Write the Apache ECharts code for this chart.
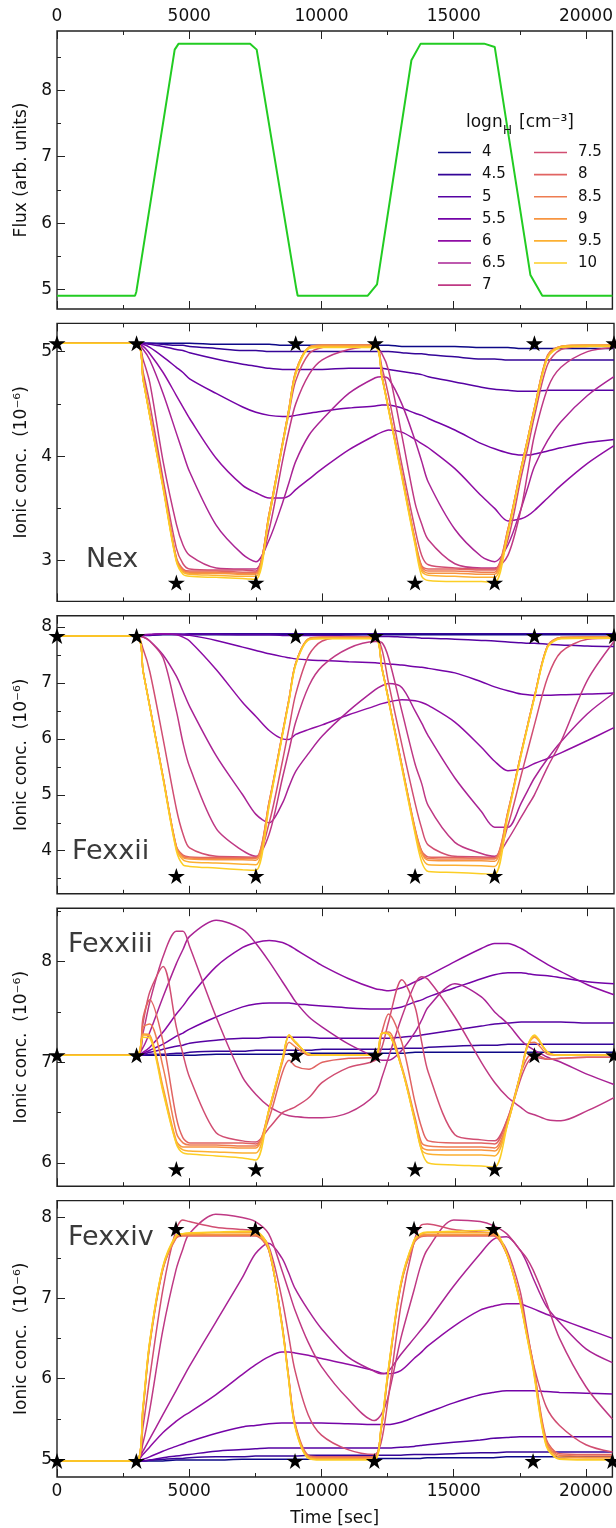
<!DOCTYPE html>
<html><head><meta charset="utf-8">
<script src="https://cdn.jsdelivr.net/npm/echarts@6/dist/echarts.min.js"></script>
<style>html,body{margin:0;padding:0;background:#fff}#c{width:616px;height:1528px}</style>
</head><body><div id="c"></div>
<script>
// ---------------- DATA ----------------
const densities = ['4','4.5','5','5.5','6','6.5','7','7.5','8','8.5','9','9.5','10'];
const plasmaColors = ['#0d0887','#340598','#5602a3','#7303a7','#8f0da4','#a92395','#bf3984','#d14e72','#e16462','#ee7c51','#f79540','#fcb032','#fcce25'];

const fluxT = [0,2950,3000,4450,4600,7300,7550,9050,9100,11750,12100,13400,13750,16150,16550,17900,18350,21000];
const fluxV = [4.91,4.91,4.97,8.61,8.70,8.70,8.61,5.01,4.91,4.91,5.08,8.45,8.70,8.70,8.65,5.22,4.91,4.91];

const T = [0,3000,3250,3500,4000,4500, 4750,5000,6000,7000,7500,8000, 8500,8750,9000,9500,10000,11000, 12000,12250,12500,13000,13500,13750, 14000,15000,16000,16500,17000,17500, 17750,18000,18500,19000,20000,21000];

// Ne X
const neX_40 = [5.08,5.08,5.08,5.08,5.08,5.08, 5.08,5.08,5.07,5.07,5.07,5.07, 5.06,5.06,5.06,5.06,5.06,5.06, 5.06,5.06,5.06,5.05,5.05,5.05, 5.05,5.05,5.04,5.04,5.04,5.03, 5.03,5.03,5.03,5.03,5.03,5.03];
const neX_45 = [5.08,5.08,5.08,5.08,5.07,5.06, 5.06,5.05,5.03,5.01,5.01,5.00, 5.00,5.00,5.00,5.00,5.00,5.00, 5.00,5.00,5.00,4.99,4.98,4.98, 4.97,4.95,4.93,4.93,4.92,4.92, 4.92,4.92,4.92,4.92,4.92,4.92];
const neX_50 = [5.08,5.08,5.08,5.07,5.05,5.02, 5.01,4.99,4.93,4.88,4.86,4.84, 4.83,4.83,4.83,4.83,4.83,4.84, 4.84,4.84,4.83,4.81,4.79,4.78, 4.76,4.71,4.66,4.64,4.63,4.62, 4.62,4.62,4.63,4.63,4.63,4.63];
const neX_55 = [5.08,5.08,5.07,5.04,4.95,4.85, 4.80,4.74,4.60,4.47,4.42,4.39, 4.38,4.38,4.39,4.41,4.43,4.46, 4.48,4.49,4.49,4.46,4.41,4.39, 4.36,4.25,4.12,4.07,4.03,4.01, 4.01,4.02,4.05,4.08,4.13,4.16];
const neX_60 = [5.08,5.08,5.05,4.98,4.80,4.58, 4.47,4.36,3.98,3.72,3.65,3.60, 3.60,3.62,3.68,3.78,3.88,4.06, 4.20,4.23,4.25,4.23,4.16,4.12, 4.08,3.88,3.62,3.50,3.38,3.40, 3.43,3.48,3.60,3.72,3.93,4.10];
const neX_65 = [5.08,5.08,5.02,4.92,4.60,4.22, 4.03,3.85,3.34,3.06,2.99,3.20, 3.55,3.75,3.95,4.20,4.35,4.60, 4.75,4.76,4.74,4.50,4.15,3.95, 3.75,3.30,3.04,2.99,3.15,3.50, 3.70,3.90,4.15,4.33,4.58,4.76];
const neX_70 = [5.08,5.08,4.92,4.70,3.95,3.35, 3.15,3.05,2.93,2.92,2.92,3.30, 3.95,4.25,4.50,4.78,4.92,5.02, 5.05,4.98,4.82,4.20,3.55,3.35, 3.20,2.97,2.93,2.93,3.05,3.50, 3.85,4.20,4.65,4.85,5.00,5.04];
const neX_75 = [5.08,5.08,4.80,4.50,3.78,3.12, 2.97,2.92,2.91,2.91,2.90,3.42, 4.10,4.42,4.72,4.98,5.04,5.06, 5.06,4.85,4.58,3.92,3.30,3.05, 2.96,2.93,2.92,2.92,3.20,3.80, 4.08,4.38,4.88,5.02,5.05,5.06];
const neX_80 = [5.08,5.08,4.74,4.40,3.72,3.03, 2.92,2.90,2.90,2.89,2.89,3.45, 4.12,4.46,4.80,5.04,5.06,5.06, 5.06,4.77,4.46,3.83,3.20,2.95, 2.92,2.92,2.91,2.91,3.30,3.89, 4.17,4.46,4.97,5.05,5.06,5.06];
const neX_85 = [5.08,5.08,4.73,4.39,3.71,3.02, 2.91,2.89,2.89,2.88,2.88,3.45, 4.12,4.46,4.81,5.04,5.06,5.06, 5.06,4.76,4.46,3.83,3.19,2.94, 2.90,2.90,2.89,2.89,3.30,3.89, 4.17,4.46,4.96,5.05,5.06,5.06];
const neX_90 = [5.08,5.08,4.73,4.39,3.71,3.01, 2.90,2.88,2.88,2.87,2.87,3.45, 4.12,4.46,4.81,5.04,5.06,5.06, 5.06,4.76,4.45,3.82,3.18,2.92, 2.88,2.88,2.87,2.87,3.29,3.89, 4.17,4.46,4.96,5.05,5.06,5.06];
const neX_95 = [5.08,5.08,4.73,4.38,3.70,3.00, 2.89,2.87,2.86,2.85,2.85,3.44, 4.11,4.45,4.80,5.04,5.05,5.05, 5.05,4.76,4.45,3.81,3.17,2.90, 2.86,2.85,2.84,2.84,3.28,3.88, 4.16,4.45,4.95,5.05,5.06,5.06];
const neX_100 = [5.08,5.08,4.72,4.38,3.69,2.99, 2.87,2.85,2.84,2.83,2.82,3.42, 4.10,4.44,4.78,5.03,5.04,5.04, 5.04,4.75,4.44,3.80,3.15,2.85, 2.81,2.80,2.80,2.79,3.26,3.87, 4.15,4.44,4.94,5.04,5.05,5.05];

// Fe XXII
const fe22_40 = [7.84,7.84,7.85,7.85,7.86,7.86, 7.86,7.86,7.86,7.86,7.86,7.86, 7.86,7.86,7.86,7.86,7.86,7.86, 7.86,7.86,7.86,7.86,7.86,7.86, 7.86,7.86,7.86,7.86,7.86,7.86, 7.86,7.86,7.86,7.86,7.86,7.86];
const fe22_45 = [7.84,7.84,7.85,7.86,7.87,7.87, 7.87,7.88,7.88,7.88,7.88,7.88, 7.88,7.88,7.88,7.88,7.88,7.88, 7.88,7.88,7.88,7.88,7.88,7.88, 7.88,7.88,7.88,7.88,7.88,7.88, 7.88,7.88,7.88,7.88,7.88,7.88];
const fe22_50 = [7.84,7.84,7.85,7.86,7.87,7.87, 7.87,7.87,7.87,7.86,7.86,7.86, 7.85,7.85,7.85,7.85,7.85,7.84, 7.83,7.83,7.83,7.82,7.81,7.80, 7.80,7.78,7.76,7.75,7.73,7.72, 7.71,7.71,7.69,7.68,7.66,7.65];
const fe22_55 = [7.84,7.84,7.85,7.86,7.87,7.87, 7.86,7.85,7.76,7.64,7.58,7.52, 7.47,7.45,7.43,7.41,7.40,7.38, 7.36,7.35,7.34,7.32,7.29,7.28, 7.26,7.18,7.02,6.93,6.86,6.80, 6.79,6.78,6.78,6.79,6.80,6.82];
const fe22_60 = [7.84,7.84,7.86,7.87,7.88,7.86, 7.82,7.75,7.24,6.65,6.40,6.15, 6.00,5.99,6.08,6.17,6.25,6.43, 6.59,6.63,6.66,6.70,6.68,6.65, 6.60,6.30,5.85,5.60,5.43,5.46, 5.50,5.56,5.65,5.75,5.97,6.20];
const fe22_65 = [7.84,7.84,7.82,7.75,7.50,7.12, 6.85,6.58,5.70,5.00,4.65,4.50, 4.85,5.15,5.42,5.75,6.05,6.50, 6.88,6.95,6.99,6.92,6.50,6.28, 6.05,5.30,4.70,4.42,4.42,4.85, 5.08,5.30,5.65,5.95,6.45,6.82];
const fe22_70 = [7.84,7.84,7.82,7.75,7.45,6.50, 5.93,5.50,4.40,4.00,3.90,4.30, 5.30,5.80,6.30,6.95,7.30,7.62, 7.74,7.72,7.45,6.50,5.55,5.20, 4.80,4.15,3.95,3.90,4.20,4.60, 4.80,5.00,5.50,5.95,7.05,7.74];
const fe22_75 = [7.84,7.84,7.60,7.20,6.00,4.75, 4.30,4.05,3.90,3.89,3.88,4.50, 5.60,6.20,6.80,7.50,7.75,7.82, 7.82,7.60,7.00,5.90,4.85,4.40, 4.10,3.90,3.89,3.88,4.45,5.35, 5.80,6.25,7.10,7.55,7.78,7.80];
const fe22_80 = [7.84,7.84,7.20,6.58,5.32,4.08, 3.92,3.89,3.88,3.88,3.88,4.88, 6.10,6.72,7.35,7.79,7.82,7.82, 7.82,7.27,6.71,5.54,4.40,4.00, 3.89,3.88,3.87,3.87,4.70,5.75, 6.26,6.76,7.67,7.81,7.82,7.82];
const fe22_85 = [7.84,7.84,7.20,6.58,5.31,4.07, 3.90,3.87,3.86,3.86,3.86,4.87, 6.10,6.72,7.35,7.79,7.81,7.81, 7.81,7.27,6.70,5.53,4.38,3.98, 3.86,3.85,3.85,3.85,4.69,5.75, 6.26,6.76,7.67,7.81,7.82,7.82];
const fe22_90 = [7.84,7.84,7.20,6.57,5.31,4.06, 3.88,3.85,3.84,3.84,3.83,4.86, 6.09,6.71,7.35,7.79,7.81,7.81, 7.81,7.27,6.70,5.52,4.37,3.96, 3.83,3.82,3.82,3.81,4.68,5.74, 6.25,6.75,7.66,7.81,7.81,7.81];
const fe22_95 = [7.84,7.84,7.19,6.57,5.30,4.03, 3.84,3.80,3.78,3.76,3.75,4.83, 6.08,6.70,7.34,7.78,7.80,7.80, 7.80,7.26,6.69,5.50,4.34,3.90, 3.75,3.74,3.73,3.72,4.66,5.73, 6.24,6.74,7.65,7.80,7.81,7.81];
const fe22_100 = [7.84,7.84,7.19,6.56,5.28,4.00, 3.75,3.72,3.69,3.66,3.65,4.80, 6.06,6.68,7.32,7.77,7.79,7.79, 7.79,7.25,6.68,5.48,4.30,3.80, 3.63,3.61,3.59,3.58,4.62,5.71, 6.23,6.73,7.64,7.79,7.80,7.80];

// Fe XXIII
const fe23_40 = [7.07,7.07,7.07,7.07,7.07,7.07, 7.07,7.07,7.08,7.08,7.08,7.08, 7.08,7.08,7.09,7.09,7.09,7.09, 7.09,7.09,7.09,7.09,7.10,7.10, 7.10,7.10,7.10,7.10,7.10,7.10, 7.10,7.10,7.10,7.10,7.10,7.10];
const fe23_45 = [7.07,7.07,7.07,7.08,7.08,7.09, 7.09,7.10,7.11,7.11,7.12,7.12, 7.12,7.12,7.12,7.12,7.13,7.13, 7.13,7.13,7.13,7.14,7.14,7.14, 7.15,7.16,7.17,7.17,7.18,7.18, 7.18,7.18,7.18,7.18,7.18,7.18];
const fe23_50 = [7.07,7.07,7.08,7.10,7.13,7.16, 7.17,7.19,7.22,7.24,7.24,7.25, 7.25,7.25,7.25,7.25,7.24,7.24, 7.24,7.24,7.24,7.25,7.26,7.27, 7.28,7.32,7.36,7.38,7.39,7.40, 7.40,7.40,7.40,7.40,7.39,7.39];
const fe23_55 = [7.07,7.07,7.09,7.12,7.18,7.26, 7.29,7.33,7.45,7.55,7.58,7.59, 7.59,7.59,7.58,7.57,7.56,7.54, 7.53,7.53,7.53,7.55,7.60,7.62, 7.65,7.74,7.83,7.87,7.89,7.89, 7.88,7.87,7.86,7.84,7.80,7.78];
const fe23_60 = [7.07,7.07,7.10,7.15,7.30,7.48, 7.56,7.65,7.95,8.14,8.19,8.21, 8.19,8.16,8.12,8.04,7.96,7.83, 7.73,7.72,7.71,7.74,7.80,7.83, 7.86,8.00,8.13,8.18,8.18,8.13, 8.09,8.05,7.97,7.90,7.77,7.67];
const fe23_65 = [7.07,7.07,7.15,7.30,7.65,7.98, 8.12,8.25,8.41,8.32,8.18,8.00, 7.80,7.70,7.60,7.45,7.35,7.18, 7.05,7.02,7.02,7.12,7.30,7.42, 7.55,7.78,7.65,7.50,7.38,7.22, 7.16,7.12,7.05,7.00,6.88,6.78];
const fe23_70 = [7.07,7.07,7.30,7.60,8.05,8.30, 8.30,8.15,7.45,6.85,6.68,6.56, 6.49,6.47,6.46,6.45,6.45,6.50, 6.68,6.85,7.05,7.45,7.78,7.85, 7.82,7.45,7.00,6.80,6.65,6.55, 6.50,6.48,6.43,6.42,6.52,6.65];
const fe23_75 = [7.07,7.07,7.40,7.70,7.95,7.35, 7.08,6.85,6.30,6.22,6.21,6.35, 6.50,6.53,6.56,6.65,6.80,6.95, 7.02,7.15,7.40,7.82,7.55,7.20, 6.90,6.28,6.23,6.22,6.45,6.85, 7.00,7.05,7.03,7.04,7.05,7.05];
const fe23_80 = [7.07,7.07,7.45,7.62,7.20,6.45, 6.25,6.20,6.20,6.20,6.19,6.45, 6.90,7.02,6.96,6.93,7.00,7.04, 7.05,7.30,7.48,7.20,6.60,6.35, 6.22,6.20,6.20,6.19,6.45,6.90, 7.05,7.08,7.03,7.04,7.05,7.05];
const fe23_85 = [7.07,7.07,7.35,7.38,6.95,6.30, 6.20,6.18,6.18,6.17,6.17,6.52, 7.00,7.20,7.15,7.07,7.07,7.07, 7.07,7.28,7.30,6.96,6.45,6.20, 6.17,6.16,6.16,6.15,6.42,6.92, 7.18,7.20,7.08,7.07,7.07,7.07];
const fe23_90 = [7.07,7.07,7.28,7.27,6.75,6.22, 6.16,6.16,6.16,6.15,6.15,6.54, 7.03,7.26,7.19,7.08,7.07,7.07, 7.07,7.29,7.28,6.94,6.42,6.16, 6.13,6.13,6.13,6.12,6.40,6.91, 7.17,7.25,7.10,7.07,7.07,7.07];
const fe23_95 = [7.07,7.07,7.27,7.26,6.72,6.20, 6.13,6.12,6.11,6.10,6.10,6.54, 7.03,7.27,7.20,7.08,7.07,7.07, 7.07,7.29,7.28,6.94,6.41,6.13, 6.09,6.08,6.08,6.07,6.40,6.91, 7.17,7.26,7.10,7.07,7.07,7.07];
const fe23_100 = [7.07,7.07,7.25,7.24,6.70,6.19, 6.10,6.09,6.07,6.05,6.03,6.54, 7.03,7.27,7.20,7.08,7.07,7.07, 7.07,7.29,7.28,6.94,6.40,6.12, 6.00,5.98,5.97,5.96,6.40,6.91, 7.17,7.27,7.10,7.07,7.07,7.07];

// Fe XXIV
const fe24_40 = [4.98,4.98,4.98,4.98,4.98,4.99, 4.99,4.99,4.99,5.00,5.00,5.00, 5.00,5.00,5.00,5.00,5.01,5.01, 5.01,5.01,5.01,5.01,5.01,5.01, 5.02,5.02,5.02,5.02,5.03,5.03, 5.03,5.03,5.03,5.03,5.03,5.03];
const fe24_45 = [4.98,4.98,4.98,4.99,5.00,5.01, 5.01,5.02,5.03,5.03,5.04,5.04, 5.04,5.04,5.04,5.05,5.05,5.05, 5.05,5.05,5.05,5.05,5.06,5.06, 5.06,5.07,5.08,5.08,5.09,5.09, 5.09,5.09,5.09,5.09,5.09,5.09];
const fe24_50 = [4.98,4.98,4.98,4.99,5.02,5.04, 5.05,5.06,5.10,5.12,5.13,5.14, 5.14,5.14,5.14,5.14,5.14,5.14, 5.14,5.14,5.14,5.15,5.16,5.17, 5.18,5.21,5.24,5.26,5.27,5.28, 5.28,5.28,5.28,5.28,5.28,5.28];
const fe24_55 = [4.98,4.98,5.00,5.03,5.10,5.16, 5.19,5.22,5.32,5.40,5.42,5.44, 5.45,5.45,5.45,5.45,5.45,5.44, 5.43,5.43,5.43,5.46,5.52,5.55, 5.58,5.70,5.80,5.83,5.85,5.85, 5.85,5.85,5.84,5.83,5.82,5.81];
const fe24_60 = [4.98,4.98,5.06,5.15,5.33,5.47, 5.53,5.58,5.80,6.05,6.17,6.27, 6.33,6.33,6.32,6.29,6.25,6.18, 6.10,6.07,6.06,6.10,6.25,6.32, 6.40,6.65,6.85,6.90,6.93,6.93, 6.90,6.87,6.80,6.74,6.62,6.50];
const fe24_65 = [4.98,4.98,5.10,5.25,5.55,5.85, 6.00,6.15,6.70,7.25,7.55,7.68, 7.50,7.32,7.12,6.85,6.62,6.27, 6.09,6.06,6.08,6.30,6.50,6.60, 6.70,7.15,7.55,7.73,7.76,7.60, 7.45,7.25,6.90,6.70,6.37,6.20];
const fe24_70 = [4.98,4.98,5.20,5.60,6.60,7.35, 7.60,7.80,8.04,8.00,7.95,7.80, 7.35,7.10,6.85,6.45,6.15,5.75, 5.48,5.55,5.75,6.50,7.10,7.40, 7.60,7.97,7.95,7.90,7.80,7.60, 7.50,7.35,6.95,6.50,5.90,5.50];
const fe24_75 = [4.98,4.98,5.40,6.00,7.10,7.85, 7.97,7.95,7.88,7.85,7.83,7.65, 7.00,6.55,6.10,5.55,5.30,5.12, 5.06,5.20,5.70,6.90,7.70,7.90, 7.92,7.85,7.82,7.80,7.60,7.10, 6.65,6.20,5.65,5.42,5.18,5.09];
const fe24_80 = [4.98,4.98,5.60,6.40,7.35,7.74, 7.77,7.77,7.77,7.77,7.77,7.60, 6.70,6.05,5.45,5.05,5.03,5.03, 5.03,5.35,6.00,7.15,7.68,7.76, 7.77,7.77,7.77,7.77,7.55,7.00, 6.60,6.20,5.25,5.07,5.06,5.06];
const fe24_85 = [4.98,4.98,5.62,6.42,7.36,7.75, 7.78,7.78,7.78,7.78,7.78,7.61, 6.69,6.04,5.43,5.04,5.02,5.02, 5.02,5.36,6.02,7.16,7.69,7.77, 7.78,7.78,7.78,7.78,7.55,6.99, 6.58,6.18,5.22,5.05,5.04,5.04];
const fe24_90 = [4.98,4.98,5.63,6.43,7.37,7.76, 7.79,7.79,7.79,7.79,7.79,7.61, 6.68,6.03,5.42,5.03,5.01,5.01, 5.01,5.37,6.03,7.17,7.70,7.78, 7.79,7.79,7.79,7.79,7.55,6.98, 6.57,6.16,5.20,5.03,5.02,5.02];
const fe24_95 = [4.98,4.98,5.64,6.44,7.38,7.77, 7.80,7.80,7.81,7.81,7.81,7.62, 6.67,6.02,5.41,5.02,5.00,5.00, 5.00,5.38,6.04,7.18,7.71,7.79, 7.81,7.81,7.81,7.81,7.55,6.97, 6.56,6.14,5.18,5.01,5.00,5.00];
const fe24_100 = [4.98,4.98,5.65,6.45,7.39,7.78, 7.80,7.81,7.82,7.83,7.83,7.63, 6.66,6.01,5.40,5.01,4.99,4.99, 4.99,5.39,6.05,7.19,7.72,7.80, 7.82,7.83,7.84,7.84,7.56,6.96, 6.55,6.12,5.16,5.00,4.99,4.99];

// star markers
const starT_a = [0,3000,9000,12000,18000,21000];
const starT_b = [4500,7500,13500,16500];
const starV_neX  = [5.08, 2.79];
const starV_fe22 = [7.84, 3.55];
const starV_fe23 = [7.07, 5.94];
const starV_fe24 = [4.98, 7.86];

// axis tick values
const xMajor = [0,5000,10000,15000,20000];
const xMinor = [2500,7500,12500,17500];

// ---------------- LAYOUT ----------------
const F = 'DejaVu Sans';
const GL = 57, GW = 557, GH = 278;
const GT = [31, 323.4, 615.8, 908.2, 1200.6];
const ionLabel = 'Ionic conc.  (10\u207b\u2076)';
const panels = [
  {min:4.71, max:8.89, major:[5,6,7,8], minor:[5.5,6.5,7.5,8.5], name:'Flux (arb. units)'},
  {min:2.61, max:5.27, major:[3,4,5], minor:[3.5,4.5], name:ionLabel, sets:[neX_40,neX_45,neX_50,neX_55,neX_60,neX_65,neX_70,neX_75,neX_80,neX_85,neX_90,neX_95,neX_100], stars:starV_neX, label:'Nex', lx:86, ly:560},
  {min:3.23, max:8.20, major:[4,5,6,7,8], minor:[3.5,4.5,5.5,6.5,7.5], name:ionLabel, sets:[fe22_40,fe22_45,fe22_50,fe22_55,fe22_60,fe22_65,fe22_70,fe22_75,fe22_80,fe22_85,fe22_90,fe22_95,fe22_100], stars:starV_fe22, label:'Fexxii', lx:72, ly:852},
  {min:5.77, max:8.53, major:[6,7,8], minor:[6.5,7.5,8.5], name:ionLabel, sets:[fe23_40,fe23_45,fe23_50,fe23_55,fe23_60,fe23_65,fe23_70,fe23_75,fe23_80,fe23_85,fe23_90,fe23_95,fe23_100], stars:starV_fe23, label:'Fexxiii', lx:68, ly:945},
  {min:4.78, max:8.21, major:[5,6,7,8], minor:[5.5,6.5,7.5], name:ionLabel, sets:[fe24_40,fe24_45,fe24_50,fe24_55,fe24_60,fe24_65,fe24_70,fe24_75,fe24_80,fe24_85,fe24_90,fe24_95,fe24_100], stars:starV_fe24, label:'Fexxiv', lx:68, ly:1238}
];

const starPath = 'path://M0,-100 L22.45,-30.9 L95.1,-30.9 L36.3,11.8 L58.8,80.9 L0,38.2 L-58.8,80.9 L-36.3,11.8 L-95.1,-30.9 L-22.45,-30.9 Z';
const lineIcon = 'path://M0,0 L100,0 L100,5 L0,5 Z';
const tickColor = '#222';

const option = {animation:false, backgroundColor:'#fff', textStyle:{fontFamily:F},
  grid:[], xAxis:[], yAxis:[], series:[], legend:[], graphic:[]};

function xAx(gi, pos, vals, len, showLab, extra){
  return Object.assign({type:'value', gridIndex:gi, position:pos, min:0, max:21000,
    axisLine:{show:false, onZero:false},
    axisTick:{show:true, inside:true, length:len, customValues:vals, lineStyle:{color:tickColor, width:1}},
    axisLabel:{show:showLab, customValues:vals, fontSize:17, color:'#111', fontFamily:F, margin:6, formatter:v=>String(v)},
    splitLine:{show:false}}, extra||{});
}
function yAx(gi, p, vals, len, showLab, extra){
  return Object.assign({type:'value', gridIndex:gi, position:'left', min:p.min, max:p.max,
    axisLine:{show:false, onZero:false},
    axisTick:{show:true, inside:true, length:len, customValues:vals, lineStyle:{color:tickColor, width:1}},
    axisLabel:{show:showLab, customValues:vals, fontSize:17, color:'#111', fontFamily:F, margin:5, formatter:v=>String(v)},
    splitLine:{show:false}}, extra||{});
}

panels.forEach((p, gi) => {
  option.grid.push({left:GL, top:GT[gi], width:GW, height:GH, show:true, borderColor:'#222', borderWidth:1.4, backgroundColor:'transparent'});
  const bottomExtra = gi === 4 ? {name:'Time [sec]', nameLocation:'middle', nameGap:33, nameTextStyle:{fontSize:17, color:'#111', fontFamily:F}} : {};
  option.xAxis.push(xAx(gi, 'bottom', xMajor, 8, gi === 4, bottomExtra)); // 4*gi
  option.xAxis.push(xAx(gi, 'top', xMajor, 8, gi === 0));
  option.xAxis.push(xAx(gi, 'bottom', xMinor, 4, false));
  option.xAxis.push(xAx(gi, 'top', xMinor, 4, false));
  option.yAxis.push(yAx(gi, p, p.major, 8, true, {name:p.name, nameLocation:'middle', nameGap:20, nameRotate:90,
    nameTextStyle:{fontSize:17, color:'#111', fontFamily:F}}));
  option.yAxis.push(yAx(gi, p, p.minor, 4, false));

  if (gi === 0) {
    option.series.push({type:'line', xAxisIndex:0, yAxisIndex:0, data:fluxT.map((t,k)=>[t, fluxV[k]]),
      symbol:'none', lineStyle:{color:'#22cc22', width:2}, itemStyle:{color:'#22cc22'}, z:3});
  } else {
    p.sets.forEach((arr, si) => {
      option.series.push({type:'line', name:densities[si], xAxisIndex:4*gi, yAxisIndex:2*gi,
        data:T.map((t,k)=>[t, arr[k]]), symbol:'none', smooth:0.3,
        lineStyle:{color:plasmaColors[si], width:1.5}, itemStyle:{color:plasmaColors[si]}, z:3});
    });
    const sd = starT_a.map(t=>[t, p.stars[0]]).concat(starT_b.map(t=>[t, p.stars[1]]));
    option.series.push({type:'scatter', xAxisIndex:4*gi, yAxisIndex:2*gi, data:sd, symbol:starPath,
      symbolSize:[17,16], itemStyle:{color:'#000', opacity:1}, clip:false, z:6, silent:true});
    option.graphic.push({type:'text', x:p.lx, y:p.ly, z:10, style:{text:p.label, font:'27px "DejaVu Sans"', fill:'#3a3a3a', verticalAlign:'middle', textVerticalAlign:'middle', align:'left'}});
  }
});

const legCommon = {orient:'vertical', top:140, itemWidth:33, itemHeight:14, itemGap:7.1, padding:5, selectedMode:false,
  icon:lineIcon, textStyle:{fontSize:15, color:'#111', fontFamily:F, padding:[0,0,0,6]}};
option.legend.push(Object.assign({left:433, data:densities.slice(0,7)}, legCommon));
option.legend.push(Object.assign({left:529, data:densities.slice(7)}, legCommon));

option.graphic.push({type:'text', x:466, y:123, z:10, style:{text:'logn', font:'17px "DejaVu Sans"', fill:'#111', verticalAlign:'middle', textVerticalAlign:'middle'}});
option.graphic.push({type:'text', x:503, y:131, z:10, style:{text:'H', font:'12px "DejaVu Sans"', fill:'#111', verticalAlign:'middle', textVerticalAlign:'middle'}});
option.graphic.push({type:'text', x:519, y:123, z:10, style:{text:'[cm\u207b\u00b3]', font:'17px "DejaVu Sans"', fill:'#111', verticalAlign:'middle', textVerticalAlign:'middle'}});

const chart = echarts.init(document.getElementById('c'), null, {renderer:'canvas'});
chart.setOption(option);
</script>
</body></html>
